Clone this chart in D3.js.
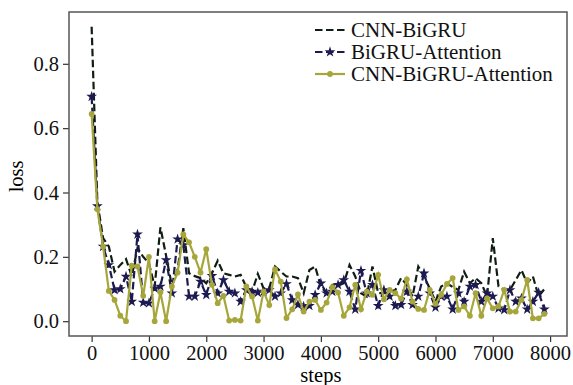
<!DOCTYPE html>
<html>
<head>
<meta charset="utf-8">
<script src="https://cdn.jsdelivr.net/npm/d3@7"></script>
<style>
  body { margin: 0; background: #fff; }
  text { font-family: "Liberation Serif", "Times New Roman", serif; }
</style>
</head>
<body>
<script>
// loss recorded every 100 steps
const steps = d3.range(0, 8000, 100);

const cnnBigru = [0.915, 0.37, 0.258, 0.232, 0.154, 0.175, 0.193, 0.14, 0.227, 0.20,
  0.18, 0.108, 0.292, 0.203, 0.11, 0.16, 0.289, 0.149, 0.14, 0.134,
  0.118, 0.149, 0.188, 0.149, 0.144, 0.139, 0.144, 0.106, 0.092, 0.147,
  0.102, 0.102, 0.17, 0.154, 0.139, 0.139, 0.134, 0.087, 0.159, 0.17,
  0.108, 0.087, 0.113, 0.11, 0.118, 0.175, 0.139, 0.087, 0.077, 0.17,
  0.087, 0.087, 0.092, 0.097, 0.134, 0.113, 0.077, 0.17, 0.139, 0.102,
  0.061, 0.108, 0.118, 0.106, 0.097, 0.154, 0.118, 0.134, 0.118, 0.077,
  0.258, 0.108, 0.097, 0.097, 0.128, 0.159, 0.118, 0.139, 0.077, 0.10];

const bigruAtt = [0.698, 0.358, 0.232, 0.175, 0.097, 0.10, 0.139, 0.061, 0.27, 0.058,
  0.056, 0.102, 0.108, 0.19, 0.087, 0.255, 0.237, 0.077, 0.077, 0.123,
  0.082, 0.141, 0.087, 0.128, 0.092, 0.087, 0.061, 0.097, 0.092, 0.089,
  0.092, 0.097, 0.077, 0.087, 0.116, 0.066, 0.051, 0.046, 0.048, 0.082,
  0.118, 0.087, 0.092, 0.113, 0.128, 0.092, 0.037, 0.157, 0.087, 0.113,
  0.048, 0.097, 0.077, 0.048, 0.051, 0.092, 0.051, 0.077, 0.149, 0.087,
  0.043, 0.077, 0.077, 0.037, 0.087, 0.061, 0.108, 0.113, 0.061, 0.087,
  0.077, 0.04, 0.035, 0.097, 0.061, 0.071, 0.037, 0.061, 0.089, 0.037];

const cnnBigruAtt = [0.644, 0.348, 0.232, 0.094, 0.066, 0.017, 0.0, 0.173, 0.17, 0.079,
  0.20, 0.0, 0.09, 0.0, 0.108, 0.151, 0.27, 0.245, 0.20, 0.151,
  0.224, 0.113, 0.056, 0.079, 0.002, 0.004, 0.002, 0.108, 0.077, 0.002,
  0.092, 0.05, 0.161, 0.123, 0.01, 0.037, 0.083, 0.03, 0.061, 0.066,
  0.035, 0.058, 0.106, 0.089, 0.017, 0.043, 0.113, 0.037, 0.092, 0.082,
  0.144, 0.068, 0.097, 0.087, 0.07, 0.13, 0.061, 0.038, 0.035, 0.097,
  0.054, 0.082, 0.116, 0.134, 0.035, 0.046, 0.017, 0.087, 0.017, 0.071,
  0.04, 0.046, 0.097, 0.03, 0.03, 0.066, 0.128, 0.009, 0.009, 0.023];

const xTicks = [0, 1000, 2000, 3000, 4000, 5000, 6000, 7000, 8000];
const yTicks = [0.0, 0.2, 0.4, 0.6, 0.8];

const series = [
  { name: "CNN-BiGRU", values: cnnBigru, color: "#0f1d12", dash: "7.5,3.5", marker: null },
  { name: "BiGRU-Attention", values: bigruAtt, color: "#1c1a50", dash: "7.5,3.5", marker: "star" },
  { name: "CNN-BiGRU-Attention", values: cnnBigruAtt, color: "#a7a63b", dash: null, marker: "circle" }
];

const width = 573, height = 385;
const margin = { top: 12, right: 6, bottom: 49, left: 69 };

const svg = d3.select("body").append("svg")
  .attr("width", width)
  .attr("height", height);

const x = d3.scaleLinear().domain([-395, 8295]).range([margin.left, width - margin.right]);
const y = d3.scaleLinear().domain([-0.046, 0.961]).range([height - margin.bottom, margin.top]);

// axes
const xAxis = svg.append("g")
  .attr("transform", "translate(0," + (height - margin.bottom) + ")")
  .call(d3.axisBottom(x).tickValues(xTicks).tickFormat(d3.format("d")).tickSizeOuter(0).tickSize(6).tickPadding(3));
const yAxis = svg.append("g")
  .attr("transform", "translate(" + margin.left + ",0)")
  .call(d3.axisLeft(y).tickValues(yTicks).tickFormat(d3.format(".1f")).tickSizeOuter(0).tickSize(6).tickPadding(4));

[xAxis, yAxis].forEach(a => {
  a.select(".domain").remove();
  a.selectAll(".tick line").attr("stroke", "#333").attr("stroke-width", 1.2);
  a.selectAll(".tick text").attr("fill", "#111").style("font-size", "20.5px");
});

svg.append("rect")
  .attr("x", margin.left).attr("y", margin.top)
  .attr("width", width - margin.left - margin.right)
  .attr("height", height - margin.top - margin.bottom)
  .attr("fill", "none").attr("stroke", "#555").attr("stroke-width", 1.5);

svg.append("text")
  .attr("x", x(4000)).attr("y", 382)
  .attr("text-anchor", "middle")
  .style("font-size", "20.5px")
  .text("steps");

svg.append("text")
  .attr("transform", "translate(23," + y(0.45) + ") rotate(-90)")
  .attr("text-anchor", "middle")
  .style("font-size", "20.5px")
  .text("loss");

const line = d3.line().x((d, i) => x(steps[i])).y(d => y(d));
const star = d3.symbol().type(d3.symbolStar).size(36);

series.forEach(s => {
  svg.append("path")
    .datum(s.values)
    .attr("fill", "none")
    .attr("stroke", s.color)
    .attr("stroke-width", 2.2)
    .attr("stroke-dasharray", s.dash)
    .attr("d", line);

  if (s.marker === "star") {
    svg.append("g").selectAll("path")
      .data(s.values)
      .join("path")
      .attr("transform", (d, i) => "translate(" + x(steps[i]) + "," + y(d) + ")")
      .attr("d", star)
      .attr("fill", s.color);
  } else if (s.marker === "circle") {
    svg.append("g").selectAll("circle")
      .data(s.values)
      .join("circle")
      .attr("cx", (d, i) => x(steps[i]))
      .attr("cy", d => y(d))
      .attr("r", 2.9)
      .attr("fill", s.color);
  }
});

// legend
const legend = svg.append("g");
const legendRows = [30, 52, 74];
series.forEach((s, i) => {
  const ly = legendRows[i];
  legend.append("line")
    .attr("x1", 315).attr("x2", 345)
    .attr("y1", ly).attr("y2", ly)
    .attr("stroke", s.color)
    .attr("stroke-width", 2.2)
    .attr("stroke-dasharray", s.dash);
  if (s.marker === "star") {
    legend.append("path")
      .attr("transform", "translate(330," + ly + ")")
      .attr("d", star).attr("fill", s.color);
  } else if (s.marker === "circle") {
    legend.append("circle")
      .attr("cx", 330).attr("cy", ly).attr("r", 2.9).attr("fill", s.color);
  }
  legend.append("text")
    .attr("x", 351).attr("y", ly)
    .attr("dy", "0.35em")
    .style("font-size", "21px")
    .attr("fill", "#111")
    .text(s.name);
});
</script>
</body>
</html>
